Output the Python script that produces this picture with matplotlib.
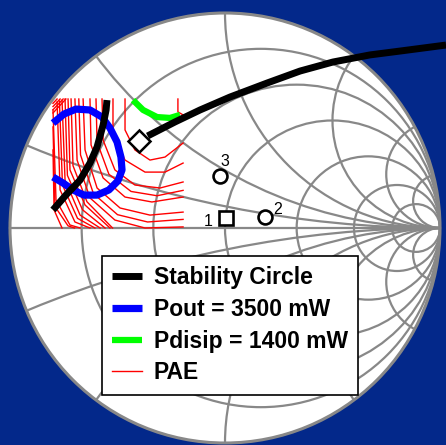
import numpy as np
import matplotlib.pyplot as plt
from matplotlib.patches import Circle

# Smith chart grid (normalised resistance / reactance)
r_values = [0.2, 0.5, 1, 2, 4, 8]
x_values = [0.2, 0.5, 1, 2, 4, 8]

# stability circle, reflection coefficient (re, im)
stab_a_re = [-0.800, -0.740, -0.674, -0.628, -0.595, -0.567, -0.553, -0.549]
stab_a_im = [0.084, 0.153, 0.223, 0.302, 0.377, 0.479, 0.549, 0.595]
stab_b_re = [-0.360, -0.233, -0.116, 0.023, 0.195, 0.349, 0.502, 0.674, 0.814, 1.028]
stab_b_im = [0.428, 0.493, 0.549, 0.609, 0.674, 0.730, 0.772, 0.805, 0.823, 0.851]

# Pout = 3500 mW contour
pout_re = [-0.800, -0.749, -0.693, -0.628, -0.572, -0.535, -0.502, -0.484,
           -0.479, -0.498, -0.540, -0.595, -0.656, -0.707, -0.753, -0.800]
pout_im = [0.488, 0.530, 0.553, 0.549, 0.516, 0.465, 0.400, 0.330,
           0.270, 0.219, 0.177, 0.153, 0.153, 0.177, 0.209, 0.237]

# Pdisip = 1400 mW contour
pdis_re = [-0.428, -0.381, -0.316, -0.256, -0.209]
pdis_im = [0.595, 0.549, 0.516, 0.512, 0.526]

# PAE contours
pae_re = [
    [-0.219, -0.219, -0.195],
    [-0.465, -0.465, -0.419, -0.349, -0.279, -0.195],
    [-0.521, -0.521, -0.465, -0.372, -0.279, -0.195],
    [-0.572, -0.567, -0.512, -0.419, -0.302, -0.195],
    [-0.600, -0.595, -0.540, -0.437, -0.316, -0.195],
    [-0.628, -0.623, -0.567, -0.465, -0.340, -0.195],
    [-0.660, -0.651, -0.595, -0.488, -0.349, -0.195],
    [-0.680, -0.672, -0.612, -0.500, -0.360, -0.195],
    [-0.698, -0.688, -0.628, -0.512, -0.372, -0.195],
    [-0.716, -0.707, -0.642, -0.523],
    [-0.730, -0.721, -0.651, -0.535],
    [-0.744, -0.733, -0.663, -0.558],
    [-0.758, -0.744, -0.674, -0.581],
    [-0.770, -0.756, -0.686, -0.605],
    [-0.781, -0.767, -0.698, -0.628],
    [-0.800, -0.786, -0.721, -0.674],
    [-0.800, -0.791, -0.730, -0.700],
    [-0.800, -0.795, -0.758],
    [-0.781, -0.800],
    [-0.767, -0.800],
    [-0.753, -0.800],
    [-0.740, -0.800],
]
pae_im = [
    [0.600, 0.540, 0.526],
    [0.600, 0.456, 0.363, 0.316, 0.330, 0.395],
    [0.600, 0.433, 0.316, 0.260, 0.260, 0.302],
    [0.600, 0.409, 0.270, 0.200, 0.186, 0.214],
    [0.600, 0.400, 0.250, 0.170, 0.150, 0.175],
    [0.600, 0.386, 0.233, 0.144, 0.121, 0.144],
    [0.600, 0.363, 0.186, 0.093, 0.060, 0.074],
    [0.600, 0.340, 0.160, 0.062, 0.028, 0.040],
    [0.600, 0.316, 0.140, 0.037, 0.000, 0.005],
    [0.600, 0.290, 0.122, 0.000],
    [0.600, 0.270, 0.107, 0.000],
    [0.600, 0.245, 0.085, 0.000],
    [0.595, 0.223, 0.060, 0.000],
    [0.590, 0.200, 0.045, 0.000],
    [0.586, 0.177, 0.028, 0.000],
    [0.549, 0.130, 0.014, 0.000],
    [0.470, 0.100, 0.010, 0.000],
    [0.363, 0.084, 0.000],
    [0.600, 0.580],
    [0.600, 0.565],
    [0.600, 0.550],
    [0.600, 0.535],
]

# load points
pt_re = [0.005, 0.186, -0.023]
pt_im = [0.047, 0.051, 0.242]
pt_labels = ['1', '2', '3']
pt_markers = ['s', 'o', 'o']
start_re, start_im = -0.400, 0.405

fig = plt.figure(figsize=(4.46, 4.45), dpi=100)
fig.patch.set_facecolor('#03288a')
ax = fig.add_axes([0, 0, 1, 1])
ax.set_xlim(-225 / 215, 221 / 215)
ax.set_ylim(-217 / 215, 228 / 215)
ax.axis('off')

grid_col = '#888888'
disc = Circle((0, 0), 1, facecolor='white', edgecolor='none', zorder=0)
ax.add_patch(disc)

for r in r_values:
    c = Circle((r / (1 + r), 0), 1 / (1 + r), fill=False, ec=grid_col, lw=1.6, zorder=1)
    ax.add_patch(c)
    c.set_clip_path(disc)
for x in x_values:
    for s in (1, -1):
        c = Circle((1, s / x), 1 / x, fill=False, ec=grid_col, lw=1.6, zorder=1)
        ax.add_patch(c)
        c.set_clip_path(disc)
ax.plot([-1, 1], [0, 0], color=grid_col, lw=1.6, zorder=1)
ax.add_patch(Circle((0, 0), 1, fill=False, ec=grid_col, lw=2.2, zorder=1))

for i, (xs, ys) in enumerate(zip(pae_re, pae_im)):
    ax.plot(xs, ys, color='red', lw=1.0, zorder=2, label='PAE' if i == 0 else None)

ax.plot(pout_re, pout_im, color='blue', lw=5.2, solid_capstyle='butt', zorder=3,
        label='Pout = 3500 mW')
ax.plot(pdis_re, pdis_im, color='#00ff00', lw=4.5, solid_capstyle='butt', zorder=3,
        label='Pdisip = 1400 mW')
ax.plot(stab_a_re, stab_a_im, color='black', lw=5, solid_capstyle='butt', zorder=4,
        label='Stability Circle')
ax.plot(stab_b_re, stab_b_im, color='black', lw=5, solid_capstyle='butt', zorder=4,
        clip_on=False)

ax.plot(start_re, start_im, marker='D', ms=11.5, mfc='white', mec='black', mew=1.8, zorder=5)
for xr, yi, lab, m in zip(pt_re, pt_im, pt_labels, pt_markers):
    ax.plot(xr, yi, marker=m, ms=10, mfc='white', mec='black', mew=1.9, zorder=5)
lab_font = {'family': 'Liberation Sans', 'size': 11.5}
ax.annotate('1', (pt_re[0], pt_im[0]), xytext=(-16, -6), textcoords='offset points', **lab_font)
ax.annotate('2', (pt_re[1], pt_im[1]), xytext=(6, 2), textcoords='offset points', **lab_font)
ax.annotate('3', (pt_re[2], pt_im[2]), xytext=(0, 7), textcoords='offset points', **lab_font)

handles, labels = ax.get_legend_handles_labels()
order = ['Stability Circle', 'Pout = 3500 mW', 'Pdisip = 1400 mW', 'PAE']
hmap = dict(zip(labels, handles))
leg = fig.legend([hmap[k] for k in order], order, loc='upper left',
                 bbox_to_anchor=(102 / 446, 1 - 256 / 445), borderaxespad=0,
                 prop={'family': 'Liberation Sans', 'weight': 'bold', 'size': 16.5},
                 handlelength=1.3, handletextpad=0.5, labelspacing=0.38,
                 borderpad=0.45, fancybox=False, framealpha=1, edgecolor='black')
leg.get_frame().set_linewidth(1.2)

fig.savefig('out.png', dpi=100, facecolor=fig.get_facecolor())
